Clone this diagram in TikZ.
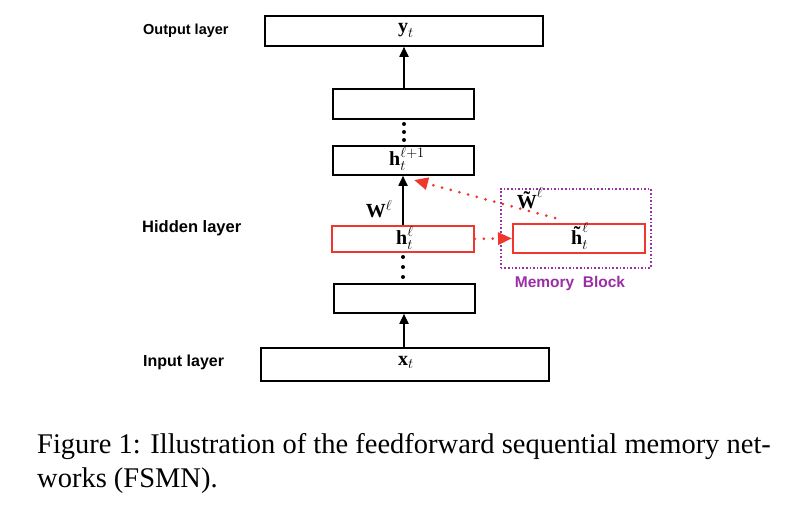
\documentclass[tikz,border=0pt]{standalone}
\usepackage{fontspec}
\setmainfont{Liberation Serif}
\newfontfamily\lblfont{Liberation Sans}
\usetikzlibrary{arrows.meta}
\definecolor{boxred}{RGB}{240,55,45}
\definecolor{mempurple}{RGB}{155,45,165}
\newcommand{\bv}[1]{\hbox{\bfseries #1}}
\tikzset{
  layerbox/.style={draw=black,line width=1.8pt,inner sep=0pt,anchor=north west},
  redbox/.style={draw=boxred,line width=1.8pt,inner sep=0pt,anchor=north west},
  sidelbl/.style={font=\lblfont\bfseries\fontsize{14.5}{16}\selectfont,anchor=west,inner sep=0pt},
  mathlbl/.style={font=\fontsize{20}{22}\selectfont,inner sep=0pt},
  fwd/.style={line width=1.8pt,-{Triangle[length=10pt,width=9pt]}},
  mem/.style={boxred,line width=3pt,line cap=round,dash pattern=on 0pt off 9pt,-{Triangle[length=14pt,width=12pt,fill=boxred]}},
  capt/.style={font=\fontsize{28.5}{34}\selectfont,anchor=base west,inner sep=0pt}
}
\begin{document}
\begin{tikzpicture}[x=1pt,y=-1pt]
\useasboundingbox (0,0) rectangle (808,504);
% boxes
\node[layerbox,minimum width=278pt,minimum height=30pt] (out) at (264,15) {};
\node[layerbox,minimum width=141pt,minimum height=30pt] (b2) at (332,88) {};
\node[layerbox,minimum width=141pt,minimum height=29pt] (hl1) at (332,145) {};
\node[redbox,minimum width=142pt,minimum height=26pt] (hl) at (331,225) {};
\node[redbox,minimum width=132pt,minimum height=29pt] (ht) at (512,223) {};
\node[layerbox,minimum width=141pt,minimum height=29pt] (b1) at (333,283) {};
\node[layerbox,minimum width=288pt,minimum height=33pt] (in) at (260,347) {};
% memory block
\node[draw=mempurple,line width=1.6pt,dotted,inner sep=0pt,anchor=north west,minimum width=150pt,minimum height=79pt] (mb) at (500,188) {};
\node[font=\lblfont\bfseries\fontsize{15.5}{17}\selectfont,text=mempurple,inner sep=0pt] (mbl) at (570,283) {Memory\ \ Block};
% math labels
\node[mathlbl] (ly) at (406,30) {$\bv{y}_t$};
\node[mathlbl] (lhl1) at (407,159) {$\bv{h}_t^{\ell+1}$};
\node[mathlbl] (lhl) at (405,238) {$\bv{h}_t^{\ell}$};
\node[mathlbl] (lht) at (580,236) {$\bv{\~h}_t^{\ell}$};
\node[mathlbl] (lx) at (406,362) {$\bv{x}_t$};
\node[mathlbl] (lw) at (379,209) {$\bv{W}^{\ell}$};
\node[mathlbl] (lwt) at (530,198) {$\bv{\~W}^{\ell}$};
% side labels
\node[sidelbl] (ol) at (143,31) {Output layer};
\node[sidelbl,font=\lblfont\bfseries\fontsize{16.5}{18}\selectfont] (hlab) at (142,228) {Hidden layer};
\node[sidelbl,font=\lblfont\bfseries\fontsize{16}{18}\selectfont] (il) at (143,362) {Input layer};
% forward arrows
\draw[fwd] (b2.north -| 404,0) -- (out.south -| 404,0);
\draw[fwd] (hl.north -| 403,0) -- (hl1.south -| 403,0);
\draw[fwd] (in.north -| 404,0) -- (b1.south -| 404,0);
% vertical dots
\foreach \yy in {124,132,140} \fill (404,\yy) circle (2pt);
\foreach \yy in {257,267,277} \fill (403,\yy) circle (2pt);
% memory arrows
\coordinate (mstart) at (555,218);
\coordinate (mend) at (414,180);
\draw[mem] (hl.east) -- (ht.west);
\draw[mem] (mstart) -- (mend);
% caption
\node[capt] (c1) at (37,453) {Figure 1: Illustration of the feedforward sequential memory net-};
\node[capt] (c2) at (37,487) {works (FSMN).};
\end{tikzpicture}
\end{document}
